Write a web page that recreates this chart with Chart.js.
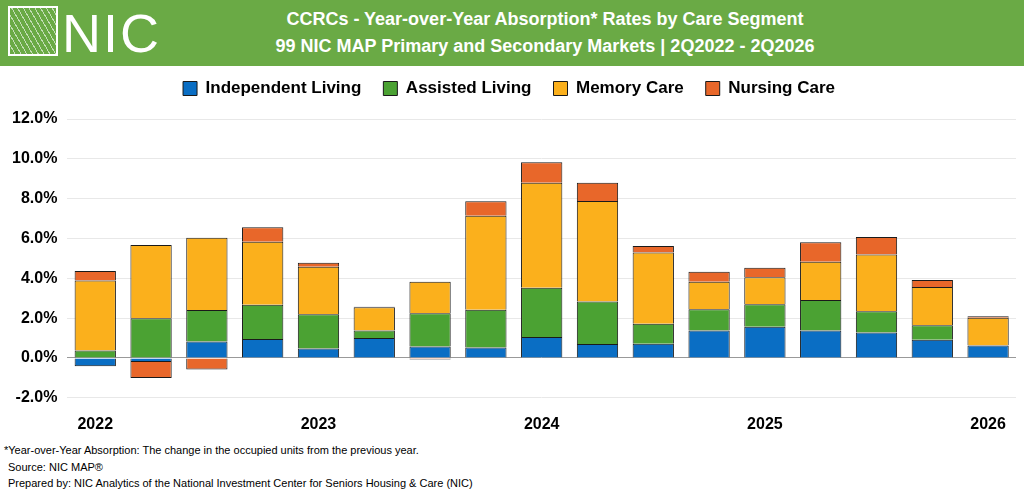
<!DOCTYPE html>
<html><head><meta charset="utf-8">
<script src="https://cdn.jsdelivr.net/npm/chart.js@4"></script>
<style>
body{margin:0;width:1024px;height:495px;background:#fff;font-family:"Liberation Sans",Arial,sans-serif;position:relative;overflow:hidden}
#hdr{position:absolute;left:0;top:0;width:1024px;height:66px;background:#6aaa45}
#logo{position:absolute;left:8px;top:6px;color:#fff;font:54px "Liberation Sans",Arial;letter-spacing:2px;line-height:54px}
#logo span{display:inline-block;width:46px;height:46px;border:2px solid #fff;margin-right:4px;vertical-align:-4px;background:repeating-linear-gradient(60deg,transparent 0 4px,rgba(255,255,255,.6) 4px 5px)}
#t1,#t2{position:absolute;left:170px;width:750px;text-align:center;color:#fff;font-weight:bold;font-size:18px}
#t1{top:9px}#t2{top:36px}
#wrap{position:absolute;left:0;top:58px;width:1020px;height:385px}
.fn{position:absolute;left:4px;font-size:11px;color:#000}
</style></head><body>
<div id="hdr"><div id="logo"><span></span>NIC</div>
<div id="t1">CCRCs - Year-over-Year Absorption* Rates by Care Segment</div>
<div id="t2">99 NIC MAP Primary and Secondary Markets | 2Q2022 - 2Q2026</div></div>
<div id="wrap"><canvas id="c"></canvas></div>
<div class="fn" style="top:444px">*Year-over-Year Absorption: The change in the occupied units from the previous year.</div>
<div class="fn" style="top:461px;left:8px">Source: NIC MAP®</div>
<div class="fn" style="top:477px;left:8px">Prepared by: NIC Analytics of the National Investment Center for Seniors Housing &amp; Care (NIC)</div>
<script>
const quarters = ["2Q2022","3Q2022","4Q2022","1Q2023","2Q2023","3Q2023","4Q2023","1Q2024","2Q2024","3Q2024","4Q2024","1Q2025","2Q2025","3Q2025","4Q2025","1Q2026","2Q2026"];
const yearLabels = {0:"2022",4:"2023",8:"2024",12:"2025",16:"2026"};
const independent = [-0.42,-0.2,0.83,0.95,0.47,1.0,0.58,0.52,1.05,0.7,0.72,1.38,1.57,1.38,1.28,0.92,0.62];
const assisted    = [0.37,2.0,1.58,1.72,1.73,0.38,1.67,1.9,2.47,2.13,1.0,1.07,1.13,1.53,1.07,0.72,0.02];
const memory      = [3.52,3.67,3.63,3.17,2.38,1.17,1.58,4.72,5.28,5.05,3.57,1.38,1.35,1.92,2.85,1.93,1.38];
const nursing     = [0.48,-0.8,-0.58,0.72,0.2,0.02,-0.08,0.73,1.03,0.92,0.33,0.5,0.48,0.98,0.87,0.35,0.08];

const ds = (label, data, color) => ({label, data, backgroundColor: color, borderColor: "#1a1a1a", borderWidth: 1, barPercentage: 0.74, categoryPercentage: 1});
const legendMargin = {id: "legendMargin", beforeInit(chart) {
  const fit = chart.legend.fit;
  chart.legend.fit = function () { fit.bind(chart.legend)(); this.height += 12; };
}};
new Chart(document.getElementById("c"), {
  type: "bar",
  data: {labels: quarters, datasets: [
    ds("Independent Living", independent, "#0a6ec4"),
    ds("Assisted Living", assisted, "#4ba233"),
    ds("Memory Care", memory, "#fbb01c"),
    ds("Nursing Care", nursing, "#e8672a"),
  ]},
  plugins: [legendMargin],
  options: {
    responsive: true, maintainAspectRatio: false, animation: false,
    layout: {padding: {left: 2, right: 4}},
    plugins: {
      legend: {labels: {font: {size: 17, weight: "bold", family: "'Liberation Sans', Arial"}, color: "#000", boxWidth: 14, boxHeight: 14, padding: 22}},
      tooltip: {enabled: false}
    },
    scales: {
      x: {stacked: true, grid: {display: false}, border: {display: false},
          ticks: {autoSkip: false, maxRotation: 0, color: "#000", font: {size: 16, weight: "bold"}, padding: 9,
                  callback: (v, i) => yearLabels[i] || ""}},
      y: {stacked: true, min: -2, max: 12, border: {display: false},
          grid: {color: c => c.tick.value === 0 ? "#999" : "#e8e8e8", drawTicks: false},
          ticks: {stepSize: 2, color: "#000", font: {size: 16, weight: "bold"}, padding: 10,
                  callback: v => v.toFixed(1) + "%"}}
    }
  }
});
</script>
</body></html>
